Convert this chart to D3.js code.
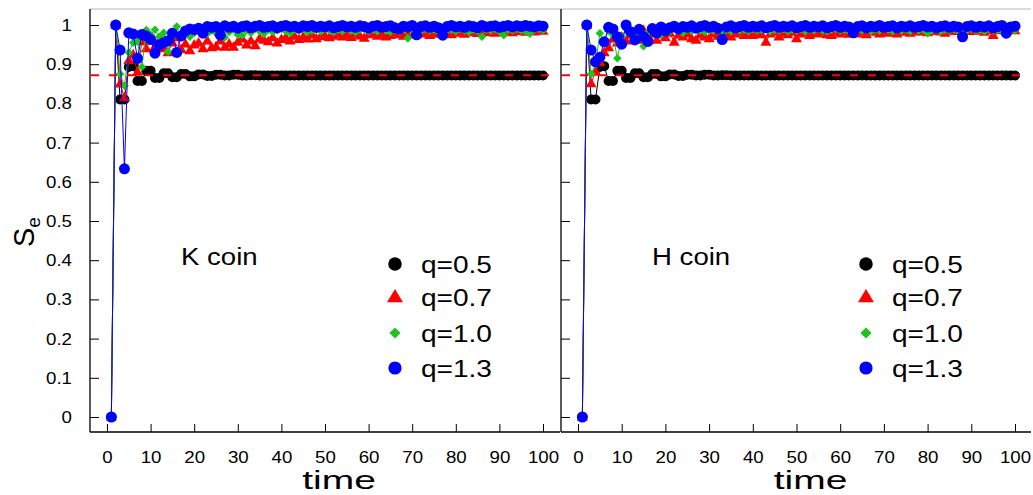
<!DOCTYPE html>
<html><head><meta charset="utf-8">
<script src="https://cdn.jsdelivr.net/npm/d3@7"></script>
<style>body{margin:0;background:#fff}svg{display:block}</style>
</head><body><svg id="c" width="1033" height="495"></svg>
<script>
const xTicks = [0,10,20,30,40,50,60,70,80,90,100];
const yTicks = [0,0.1,0.2,0.3,0.4,0.5,0.6,0.7,0.8,0.9,1];
const yTickLabels = ["0","0.1","0.2","0.3","0.4","0.5","0.6","0.7","0.8","0.9","1"];
const seriesNames = ["q=0.5","q=0.7","q=1.0","q=1.3"];
const panelTitles = ["K coin","H coin"];
const refLevel = 0.872;

const q05Values = [0,1,.810,.810,.893,.895,.857,.857,.883,.883,
 .865,.865,.877,.877,.867,.867,.875,.875,.869,.869,
 .874,.874,.870,.870,.873,.873,.871,.871,.873,.873,
 .871,.871,.872,.872,.871,.871,.871,.871,.871,.871,
 .871,.871,.871,.871,.871,.871,.871,.871,.871,.871,
 .871,.871,.871,.871,.871,.871,.871,.871,.871,.871,
 .871,.871,.871,.871,.871,.871,.871,.871,.871,.871,
 .871,.871,.871,.871,.871,.871,.871,.871,.871,.871,
 .871,.871,.871,.871,.871,.871,.871,.871,.871,.871,
 .871,.871,.871,.871,.871,.871,.871,.871,.871,.871];

const kQ07 = [0,1,.850,.815,.910,.925,.880,.958,.940,.962,
 .945,.962,.940,.930,.955,.968,.938,.952,.935,.950,
 .955,.940,.960,.943,.945,.960,.944,.952,.944,.957,
 .965,.950,.960,.948,.966,.962,.958,.968,.955,.964,
 .968,.960,.972,.964,.970,.965,.975,.966,.971,.973,
 .968,.972,.978,.970,.976,.969,.978,.973,.967,.976,
 .980,.972,.977,.970,.974,.981,.976,.972,.977,.980,
 .976,.982,.978,.974,.977,.981,.978,.983,.976,.980,
 .984,.977,.981,.985,.979,.983,.981,.986,.980,.984,
 .982,.986,.981,.984,.987,.982,.985,.983,.986,.985];

const kQ10 = [0,1,.875,.845,.930,.955,.958,.893,.987,.975,
 .988,.970,.980,.932,.970,.996,.975,.985,.970,.980,
 .985,.990,.978,.986,.980,.984,.968,.982,.988,.975,
 .974,.986,.980,.990,.984,.978,.988,.982,.986,.990,
 .984,.980,.988,.985,.990,.982,.986,.988,.984,.990,
 .986,.982,.988,.984,.990,.986,.982,.988,.990,.984,
 .988,.984,.990,.986,.982,.988,.984,.990,.966,.986,
 .988,.984,.990,.986,.988,.984,.990,.986,.988,.984,
 .990,.986,.982,.988,.984,.970,.988,.986,.990,.984,
 .974,.988,.986,.990,.986,.984,.978,.988,.990,.986];

const kQ13 = [0,1,.936,.633,.980,.977,.915,.976,.972,.963,
 .928,.949,.955,.960,.979,.930,.972,.985,.990,.988,
 .992,.979,.996,.994,.996,.974,.998,.994,.997,.992,
 .996,.998,.993,.997,.999,.994,.996,.998,.993,.997,
 .999,.995,.997,.993,.998,.996,.999,.994,.997,.995,
 .998,.993,.996,.999,.995,.997,.994,.998,.996,.992,
 .997,.999,.994,.996,.998,.993,.990,.997,.995,.999,
 .975,.996,.998,.994,.997,.993,.974,.996,.999,.995,
 .997,.994,.998,.996,.993,.999,.995,.997,.998,.994,
 .997,.999,.995,.998,.996,.999,.997,.995,.998,.997];

const hQ07 = [0,1,.851,.880,.905,.930,.943,.965,.955,.970,
 .960,.975,.968,.962,.987,.972,.978,.962,.975,.968,
 .980,.957,.975,.970,.978,.966,.962,.975,.970,.966,
 .978,.972,.980,.975,.970,.978,.982,.974,.978,.974,
 .980,.976,.957,.978,.982,.970,.980,.976,.982,.966,
 .978,.982,.974,.980,.978,.983,.976,.974,.982,.978,
 .984,.977,.980,.978,.983,.976,.982,.985,.978,.982,
 .980,.984,.978,.982,.985,.980,.983,.986,.983,.981,
 .984,.987,.983,.980,.986,.984,.988,.982,.986,.984,
 .988,.985,.982,.987,.974,.986,.988,.984,.987,.986];

const hQ10 = [0,1,.875,.900,.979,.960,.985,.975,.915,.970,
 .990,.985,.970,.985,.946,.980,.990,.985,.975,.988,
 .984,.990,.986,.980,.988,.984,.990,.986,.982,.988,
 .986,.990,.980,.988,.984,.990,.986,.988,.984,.990,
 .986,.988,.990,.984,.988,.986,.990,.984,.988,.986,
 .990,.984,.988,.986,.990,.986,.984,.988,.990,.986,
 .988,.984,.979,.988,.986,.990,.984,.988,.986,.990,
 .988,.984,.990,.986,.988,.984,.990,.986,.988,.979,
 .986,.990,.984,.988,.986,.990,.984,.988,.986,.990,
 .986,.988,.984,.990,.986,.988,.984,.990,.988,.986];

const hQ13 = [0,1,.936,.906,.918,.957,.994,.990,.970,.951,
 1.0,.983,.962,.989,.970,.958,.991,.980,.995,.985,
 .993,.997,.990,.996,.994,.998,.992,.996,.999,.994,
 .997,.992,.963,.995,.998,.993,.996,.999,.994,.997,
 .995,.998,.993,.996,.999,.994,.997,.995,.998,.993,
 .996,.999,.994,.997,.995,.998,.993,.996,.999,.994,
 .997,.995,.980,.996,.998,.993,.997,.995,.999,.994,
 .996,.998,.993,.997,.995,.998,.994,.996,.999,.995,
 .997,.993,.996,.998,.994,.997,.995,.970,.996,.998,
 .994,.997,.995,.998,.993,.996,.999,.979,.995,.997];

const colors = ["#000000","#ff0000","#1ec31e","#0000ff"];
const shapes = ["circle","triangle","diamond","bigcircle"];
const panels = [
  {title: panelTitles[0], series:[q05Values,kQ07,kQ10,kQ13], left:90, right:560, r0:107, r1:543, labels:true},
  {title: panelTitles[1], series:[q05Values,hQ07,hQ10,hQ13], left:561, right:1031, r0:578, r1:1015, labels:false}
];
const TOP = 9, BOTTOM = 432;
const y = d3.scaleLinear().domain([0,1]).range([417,25]);
const FONT = "'Liberation Sans', Arial, Helvetica, sans-serif";
const svg = d3.select("#c");

function stext(g, x, yy, str, size, anchor, sx){
  return g.append("text").attr("transform",`translate(${x},${yy}) scale(${sx},1)`)
    .attr("text-anchor",anchor).attr("font-family",FONT).attr("font-size",size)
    .attr("fill","#000").text(str);
}
function marker(g, kind, cx, cy, color, big){
  const s = big ? 1.35 : 1;
  if(kind==="circle"){ g.append("circle").attr("cx",cx).attr("cy",cy).attr("r",5*s).attr("fill",color); }
  else if(kind==="bigcircle"){ g.append("circle").attr("cx",cx).attr("cy",cy).attr("r",5.5*(big?1.2:1)).attr("fill",color); }
  else if(kind==="triangle"){ const w=5.5*(big?1.45:1), h=9.5*(big?1.4:1);
    g.append("path").attr("d",`M${cx},${cy-h*0.6}L${cx+w},${cy+h*0.4}L${cx-w},${cy+h*0.4}Z`).attr("fill",color); }
  else { const d=4.3*(big?1.3:1);
    g.append("path").attr("d",`M${cx},${cy-d}L${cx+d},${cy}L${cx},${cy+d}L${cx-d},${cy}Z`).attr("fill",color); }
}

svg.append("line").attr("x1",90).attr("x2",1031).attr("y1",TOP).attr("y2",TOP).attr("stroke","#d0d0d0").attr("stroke-width",1.5);

panels.forEach(p=>{
  const x = d3.scaleLinear().domain([0,100]).range([p.r0,p.r1]);
  const g = svg.append("g");
  p.series.forEach((vals,si)=>{
    const pts = vals.map((v,i)=>[i+1,v]);
    g.append("path").datum(pts)
      .attr("d", d3.line().x(d=>x(d[0])).y(d=>y(d[1])))
      .attr("fill","none").attr("stroke",colors[si]).attr("stroke-width",1);
    pts.forEach(d=>marker(g, shapes[si], x(d[0]), y(d[1]), colors[si], false));
  });
  g.append("line").attr("x1",p.left+1).attr("x2",p.right-1).attr("y1",y(refLevel)).attr("y2",y(refLevel))
    .attr("stroke","#ff0000").attr("stroke-width",2).attr("stroke-dasharray","8,10");
  const xa = svg.append("g").attr("transform",`translate(0,${BOTTOM})`)
    .call(d3.axisBottom(x).tickValues(xTicks).tickSize(-8).tickSizeOuter(0).tickPadding(19));
  xa.select(".domain").remove();
  xa.selectAll(".tick line").attr("stroke","#000");
  xa.selectAll(".tick text").attr("font-family",FONT).attr("font-size",17).attr("fill","#000")
    .attr("transform","scale(1.1,1)");
  const ya = svg.append("g").attr("transform",`translate(${p.left},0)`)
    .call(d3.axisLeft(y).tickValues(yTicks).tickSize(-9).tickSizeOuter(0).tickPadding(18)
      .tickFormat((d,i)=>p.labels ? yTickLabels[i] : ""));
  ya.select(".domain").remove();
  ya.selectAll(".tick line").attr("stroke","#000");
  ya.selectAll(".tick text").attr("font-family",FONT).attr("font-size",17).attr("fill","#000")
    .attr("x",-18/1.1).attr("transform","scale(1.1,1)");
  svg.append("line").attr("x1",p.left).attr("x2",p.left).attr("y1",TOP).attr("y2",BOTTOM).attr("stroke","#000").attr("stroke-width",1.3);
  svg.append("line").attr("x1",p.left).attr("x2",p.right).attr("y1",BOTTOM).attr("y2",BOTTOM).attr("stroke","#000").attr("stroke-width",1.5);
  stext(svg, (p.r0+p.r1)/2 + 14, 489, "time", 26, "middle", 1.5);
  stext(svg, p.left + 91, 265, p.title, 24, "start", 1.15);
  const lx = p.left + 305, tx = p.left + 331;
  const rows = [264, 297, 333, 368];
  seriesNames.forEach((nm,si)=>{
    marker(svg, shapes[si], lx, rows[si], colors[si], true);
    stext(svg, tx, rows[si]+9, nm, 23, "start", 1.22);
  });
});
const yl = svg.append("text").attr("transform","translate(34,232) rotate(-90)")
  .attr("font-family",FONT).attr("fill","#000").attr("text-anchor","middle");
yl.append("tspan").attr("font-size",29).text("S");
yl.append("tspan").attr("font-size",19).attr("dy",6).text("e");
</script></body></html>
